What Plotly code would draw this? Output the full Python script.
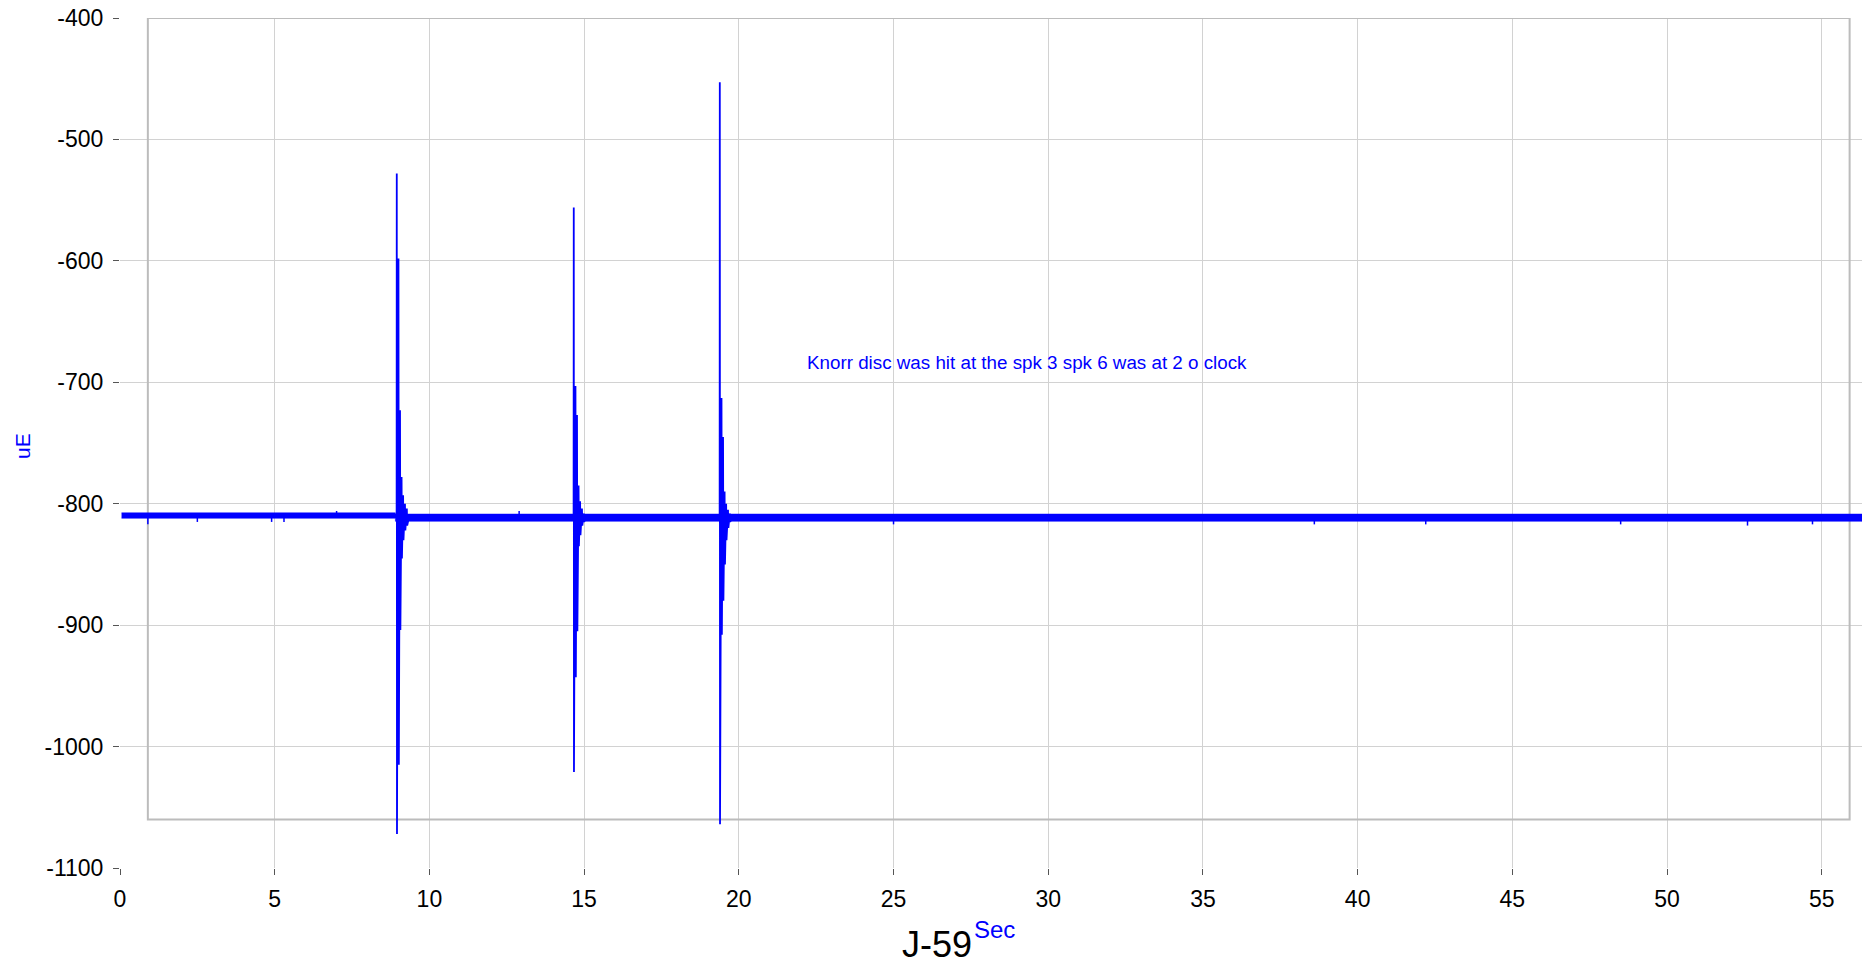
import plotly.graph_objects as go

# ---------------- data ----------------
x_ticks = [0, 5, 10, 15, 20, 25, 30, 35, 40, 45, 50, 55]
x_tick_labels = ["0", "5", "10", "15", "20", "25", "30", "35", "40", "45", "50", "55"]
y_ticks = [-1100, -1000, -900, -800, -700, -600, -500, -400]
y_tick_labels = ["-1100", "-1000", "-900", "-800", "-700", "-600", "-500", "-400"]

# baseline noise band (time segments, upper / lower envelope, uE)
band_t = [0.05, 8.9, 8.9, 56.3]
band_hi = [-807.5, -807.5, -808.5, -808.5]
band_lo = [-812.0, -812.0, -814.5, -814.5]

# small glitches sticking out of the baseline band
glitch_t = [0.9, 2.5, 4.9, 5.3, 7.0, 12.9, 25.0, 38.6, 42.2, 48.5, 52.6, 54.7]
glitch_v = [-817, -815, -815, -815, -806, -806, -817, -817, -817, -817, -818, -817]

# impact events: onset time (s) and ringing (offset s, value uE)
event_onsets = [8.94, 14.66, 19.38]
ring_offsets = [0.0, 0.005, 0.012, 0.06, 0.072, 0.11, 0.122, 0.16, 0.172, 0.21,
                0.222, 0.27, 0.282, 0.33, 0.342, 0.40]
event1_values = [-811, -528, -1072, -598, -1015, -723, -904, -778, -845, -793,
                 -830, -800, -822, -804, -818, -811]
event2_values = [-811, -556, -1021, -703, -943, -727, -905, -785, -835, -798,
                 -826, -804, -818, -808, -815, -811]
event3_values = [-811, -453, -1064, -713, -908, -745, -880, -790, -850, -800,
                 -830, -805, -820, -808, -815, -811]
event_values = [event1_values, event2_values, event3_values]

note_text = "Knorr disc was hit at the spk 3 spk 6 was at 2 o clock"
note_x, note_y = 29.3, -684

frame_x = [0.9, 55.9]
frame_y = [-1060, -400]

BLUE = "#0000ff"
FONT = "Liberation Sans, Arial, sans-serif"

fig = go.Figure()

# band polygon
poly_x = band_t + band_t[::-1]
poly_y = band_hi + band_lo[::-1]
fig.add_trace(go.Scatter(x=poly_x, y=poly_y, fill="toself", fillcolor=BLUE,
                         mode="lines", line=dict(color=BLUE, width=0.5),
                         hoverinfo="skip", showlegend=False))

# glitches
gx, gy = [], []
for t, v in zip(glitch_t, glitch_v):
    base = -811
    gx += [t, t, None]
    gy += [base, v, None]
fig.add_trace(go.Scatter(x=gx, y=gy, mode="lines", line=dict(color=BLUE, width=1.5),
                         hoverinfo="skip", showlegend=False))

# events
for onset, vals in zip(event_onsets, event_values):
    fig.add_trace(go.Scatter(x=[onset + o for o in ring_offsets], y=vals, mode="lines",
                             line=dict(color=BLUE, width=1.8), showlegend=False))

# frame rectangle and grid gap
fig.add_shape(type="rect", xref="x", yref="y", x0=frame_x[0], x1=frame_x[1],
              y0=frame_y[0], y1=frame_y[1], line=dict(color="#bcbcbc", width=2),
              layer="between")
fig.add_shape(type="rect", xref="paper", yref="y", x0=0, x1=1, y0=-1086, y1=-1074,
              fillcolor="white", line=dict(width=0), layer="between")
fig.add_shape(type="line", xref="x", yref="paper", x0=0, x1=0, y0=0, y1=1,
              line=dict(color="white", width=3), layer="between")
fig.add_shape(type="line", xref="paper", yref="y", x0=0, x1=1, y0=-1100, y1=-1100,
              line=dict(color="white", width=3), layer="between")

fig.add_annotation(x=note_x, y=note_y, xref="x", yref="y", text=note_text,
                   showarrow=False, font=dict(family=FONT, size=18.8, color=BLUE))

W, H = 1862, 964
L, R, T, B = 120, 0, 18, 96
pw, ph = W - L - R, H - T - B


def px_to_paper(px, py):
    return (px - L) / pw, (H - B - py) / ph


# axis titles (pixel positions converted to paper coords)
jx, jy = px_to_paper(937, 944)
sx, sy = px_to_paper(995, 929)
ux, uy = px_to_paper(22, 446)
fig.add_annotation(x=jx, y=jy, xref="paper", yref="paper", text="J-59",
                   xanchor="center", yanchor="middle",
                   showarrow=False, font=dict(family=FONT, size=36, color="black"))
fig.add_annotation(x=sx, y=sy, xref="paper", yref="paper", text="Sec",
                   xanchor="center", yanchor="middle",
                   showarrow=False, font=dict(family=FONT, size=24, color=BLUE))
fig.add_annotation(x=ux, y=uy, xref="paper", yref="paper", text="uE", textangle=-90,
                   xanchor="center", yanchor="middle",
                   showarrow=False, font=dict(family=FONT, size=21, color=BLUE))

fig.update_layout(
    width=W, height=H,
    margin=dict(l=L, r=R, t=T, b=B, autoexpand=False),
    plot_bgcolor="white", paper_bgcolor="white",
    font=dict(family=FONT, color="black"),
    xaxis=dict(range=[0, 56.3], tickvals=x_ticks, ticktext=x_tick_labels,
               showgrid=True, gridcolor="#d2d2d2", gridwidth=1,
               ticks="outside", ticklen=6, tickcolor="#555", tickwidth=1,
               tickfont=dict(family=FONT, size=23, color="black"),
               zeroline=False, showline=False, ticklabelstandoff=4,
               automargin=False),
    yaxis=dict(range=[-1100, -400], tickvals=y_ticks, ticktext=y_tick_labels,
               showgrid=True, gridcolor="#d2d2d2", gridwidth=1,
               ticks="outside", ticklen=6, tickcolor="#555", tickwidth=1,
               tickfont=dict(family=FONT, size=23, color="black"),
               zeroline=False, showline=False, ticklabelstandoff=5,
               automargin=False),
)

fig.write_html("out.html", config={"displayModeBar": False})

# remove the browser's default body margin so the figure sits at the page origin
with open("out.html", "r", encoding="utf-8") as f:
    html = f.read()
html = html.replace("<head>", "<head><style>html,body{margin:0;padding:0;}</style>", 1)
with open("out.html", "w", encoding="utf-8") as f:
    f.write(html)
